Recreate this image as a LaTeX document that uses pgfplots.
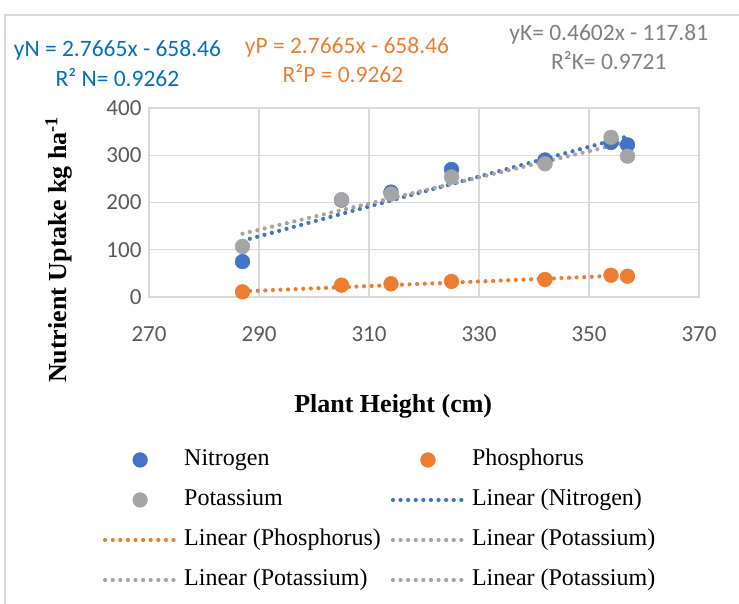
\documentclass[border=0pt]{standalone}
\usepackage{pgfplots}
\pgfplotsset{compat=1.18}
\usepackage{fontspec}
\setmainfont{Liberation Serif}
\newfontfamily\calibri{Carlito}
\definecolor{cN}{HTML}{4472C4}
\definecolor{cP}{HTML}{ED7D31}
\definecolor{cK}{HTML}{A5A5A5}
\definecolor{tN}{HTML}{0070C0}
\definecolor{tP}{HTML}{ED7D31}
\definecolor{tK}{HTML}{808080}
\definecolor{gridc}{HTML}{D9D9D9}
\definecolor{tickc}{HTML}{595959}
\pgfplotsset{
  markleg/.style={legend image code/.code={\draw[##1] plot coordinates {(35pt,0pt)};}},
  lineleg/.style={legend image code/.code={\draw[##1] (0pt,0pt) -- (69pt,0pt);}},
  trend/.style={#1, line width=4.2pt, dash pattern=on 0pt off 7.6pt, line cap=round},
  pts/.style={only marks, mark=*, mark size=7.4pt, mark options={draw=#1, fill=#1}},
}
\newcommand\annfont{\calibri\fontsize{23.5}{27}\selectfont}
\begin{document}
\begin{tikzpicture}
\useasboundingbox (0pt,0pt) rectangle (739pt,-604pt);
\draw[gridc, line width=1.2pt] (5pt,-610pt) -- (5pt,-15pt) -- (745pt,-15pt);
\begin{axis}[
  at={(149pt,-297pt)}, anchor=south west,
  scale only axis, width=550pt, height=189pt,
  xmin=270, xmax=370, ymin=0, ymax=400,
  xtick={270,290,...,370}, ytick={0,100,...,400},
  grid=major, major grid style={gridc, line width=1.3pt},
  axis line style={gridc, line width=1.3pt},
  major tick length=0pt,
  ticklabel style={font=\calibri\fontsize{23}{27}\selectfont, text=tickc},
  /pgf/number format/assume math mode=true,
  xticklabel style={yshift=-26pt},
  yticklabel style={xshift=-4pt},
  clip=false,
  xlabel={\textbf{Plant Height (cm)}},
  xlabel style={at={(axis description cs:0.444,-0.58)}, anchor=center, font=\fontsize{26}{30}\selectfont},
  ylabel={\textbf{Nutrient Uptake kg ha\textsuperscript{-1}}},
  ylabel style={at={(axis description cs:-0.164,0.25)}, anchor=center, font=\fontsize{26}{30}\selectfont},
  legend columns=2,
  legend cell align=left,
  legend style={at={(axis description cs:-0.0836,-0.804)}, anchor=north west,
    draw=none, fill=none, inner sep=0pt, outer sep=0pt,
    font=\fontsize{24}{28}\selectfont, row sep=18pt,
    nodes={text height=17pt, text depth=5pt, inner sep=0pt},
    /tikz/every odd column/.style={column sep=8pt},
    /tikz/every even column/.style={column sep=10pt}},
]
% markers
\addplot[pts=cN, markleg]
  coordinates {(287,75) (305,205) (314,222) (325,270) (342,290) (354,327) (357,322)};
\addlegendentry{Nitrogen}
\addplot[pts=cP, markleg]
  coordinates {(287,11) (305,25) (314,28) (325,33) (342,37) (354,46) (357,44)};
\addlegendentry{Phosphorus}
\addplot[pts=cK, markleg]
  coordinates {(287,107) (305,206) (314,218) (325,254) (342,282) (354,338) (357,298)};
\addlegendentry{Potassium}
% trend lines
\addplot[trend=cN, no marks, lineleg] coordinates {(287,119) (357,340)};
\addlegendentry{Linear (Nitrogen)}
\addplot[trend=cP, no marks, lineleg] coordinates {(287,12) (357,46)};
\addlegendentry{Linear (Phosphorus)}
\addplot[trend=cK, no marks, lineleg] coordinates {(287,134) (357,328)};
\addlegendentry{Linear (Potassium)}
\addlegendimage{trend=cK, lineleg}
\addlegendentry{Linear (Potassium)}
\addlegendimage{trend=cK, lineleg}
\addlegendentry{Linear (Potassium)}
% annotations
\node[text=tN, font=\annfont] at (axis description cs:-0.0573,1.307) {yN = 2.7665x - 658.46};
\node[text=tN, font=\annfont] at (axis description cs:-0.0573,1.159) {R² N= 0.9262};
\node[text=tP, font=\annfont] at (axis description cs:0.36,1.323) {yP = 2.7665x - 658.46};
\node[text=tP, font=\annfont] at (axis description cs:0.3527,1.18) {R²P = 0.9262};
\node[text=tK, font=\annfont] at (axis description cs:0.836,1.392) {yK= 0.4602x - 117.81};
\node[text=tK, font=\annfont] at (axis description cs:0.836,1.249) {R²K= 0.9721};
\end{axis}
\end{tikzpicture}
\end{document}
